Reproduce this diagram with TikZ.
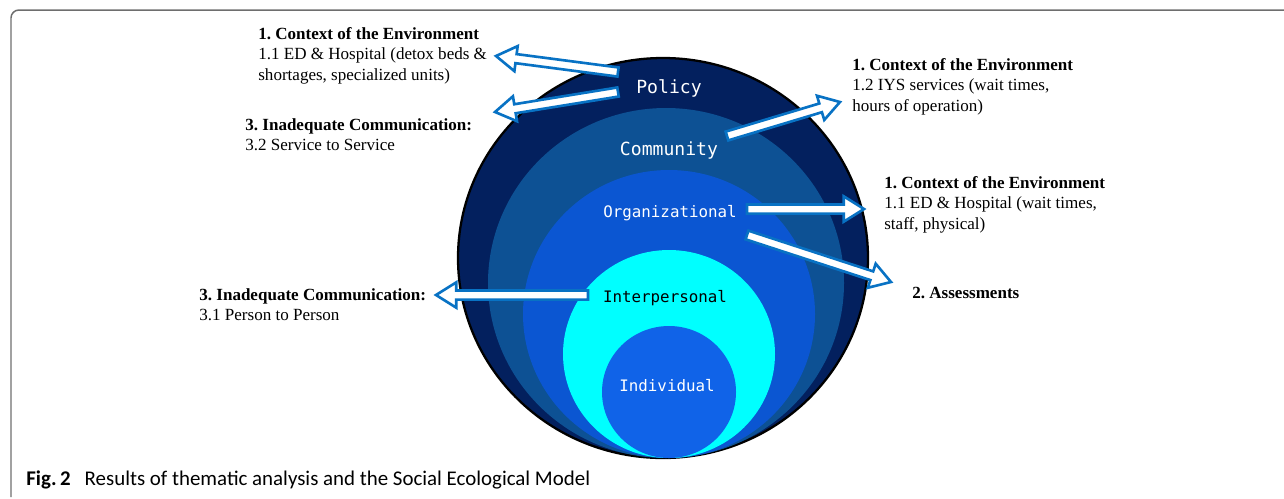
\documentclass[tikz,border=0pt]{standalone}
\usepackage{fontspec}
\setmainfont{Liberation Serif}
\newfontfamily\levelfont{DejaVu Sans Mono}
\newfontfamily\captionfont{Carlito}
\usetikzlibrary{calc}
\frenchspacing

\definecolor{policyblue}{HTML}{03205E}
\definecolor{communityblue}{HTML}{0D5194}
\definecolor{orgblue}{HTML}{0B56D2}
\definecolor{interblue}{HTML}{00FFFF}
\definecolor{indivblue}{HTML}{1063E8}
\definecolor{arrowblue}{HTML}{0872C4}
\definecolor{framegray}{HTML}{6E6E6E}

% white block arrow with blue rim, from #1 (tail) to #2 (tip)
\newcommand{\fatarrow}[2]{%
  \draw[fat arrow] let \p1=(#1), \p2=(#2),
      \n1={atan2(\y2-\y1,\x2-\x1)}, \n2={veclen(\x2-\x1,\y2-\y1)} in
    [shift={(\p1)}, rotate=\n1]
    (0pt,-2.6pt) -- ({\n2*1pt-11.5pt},-2.6pt) -- ({\n2*1pt-11.5pt},-7.2pt)
    -- ({\n2*1pt},0pt) -- ({\n2*1pt-11.5pt},7.2pt) -- ({\n2*1pt-11.5pt},2.6pt)
    -- (0pt,2.6pt) -- cycle;}

\begin{document}
\begin{tikzpicture}[x=0.02cm, y=-0.02cm,
    level/.style={font=\levelfont\fontsize{9}{9}\selectfont, text=white, inner sep=0pt, anchor=base},
    theme/.style={anchor=north west, align=left, inner sep=0pt, font=\fontsize{9.7}{11.6}\selectfont},
    fat arrow/.style={draw=arrowblue, fill=white, line width=1.5pt, line join=miter}]
  \useasboundingbox (0,0) rectangle (1284,498);

  % frame
  \draw[framegray, line width=0.85pt, rounded corners=4.5pt] (1300,10) -- (11,10) -- (11,497);

  % nested levels
  \draw[black, line width=1.3pt, fill=policyblue] (663,258) ellipse [x radius=205, y radius=200];
  \fill[communityblue] (666,283) ellipse [x radius=178, y radius=175];
  \fill[orgblue] (669,314) ellipse [x radius=146, y radius=144];
  \fill[interblue] (669,354) ellipse [x radius=106, y radius=104];
  \fill[indivblue] (669,392) ellipse [x radius=67, y radius=66];

  \node[level, font=\levelfont\fontsize{10.3}{10.3}\selectfont] (policy) at (669,93) {Policy};
  \node[level, font=\levelfont\fontsize{10.3}{10.3}\selectfont] (community) at (669,155) {Community};
  \node[level] (organizational) at (670,217) {Organizational};
  \node[level, text=black] (interpersonal) at (665,302) {Interpersonal};
  \node[level] (individual) at (667,391) {Individual};

  % themes
  \node[theme] (ctxhospital) at (258,27) {\textbf{1. Context of the Environment}\\1.1 ED \& Hospital (detox beds \&\\shortages, specialized units)};
  \node[theme] (commservice) at (245,118) {\textbf{3. Inadequate Communication:}\\3.2 Service to Service};
  \node[theme] (ctxiys) at (852,58) {\textbf{1. Context of the Environment}\\1.2 IYS services (wait times,\\hours of operation)};
  \node[theme] (ctxed) at (884,176) {\textbf{1. Context of the Environment}\\1.1 ED \& Hospital (wait times,\\staff, physical)};
  \node[theme] (assessments) at (912,287) {\textbf{2. Assessments}};
  \node[theme] (commperson) at (199,288) {\textbf{3. Inadequate Communication:}\\3.1 Person to Person};

  % arrow ends
  \coordinate (policytailA) at (618,72);
  \coordinate (policytailB) at (618,92);
  \coordinate (communitytail) at (727,136);
  \coordinate (orgtailA) at (747,209);
  \coordinate (orgtailB) at (747,235);
  \coordinate (intertail) at (588,295);
  \coordinate (hospitaltip) at (496,56);
  \coordinate (servicetip) at (495,112);
  \coordinate (iystip) at (840,102);
  \coordinate (edtip) at (864,209);
  \coordinate (assesstip) at (891,282);
  \coordinate (persontip) at (436,295);

  \fatarrow{policytailA}{hospitaltip}
  \fatarrow{policytailB}{servicetip}
  \fatarrow{communitytail}{iystip}
  \fatarrow{orgtailA}{edtip}
  \fatarrow{orgtailB}{assesstip}
  \fatarrow{intertail}{persontip}

  \node[anchor=base west, inner sep=0pt, font=\captionfont\fontsize{11.9}{12}\selectfont] (caption) at (26,485)
    {\textbf{Fig.\,2}\hspace{8pt}Results of thematic analysis and the Social Ecological Model};
\end{tikzpicture}
\end{document}
